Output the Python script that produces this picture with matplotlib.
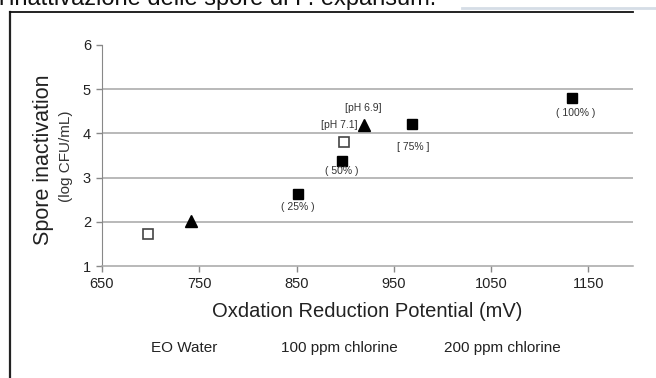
import numpy as np
import matplotlib
matplotlib.use('Agg')
import matplotlib.pyplot as plt
from matplotlib.lines import Line2D

plt.rcParams['font.family'] = ['Liberation Sans', 'DejaVu Sans']

# EO water dilutions (filled squares)
eo_orp = [852, 897, 969, 1133]
eo_log = [2.63, 3.38, 4.21, 4.80]
eo_lab = ['( 25% )', '( 50% )', '[ 75% ]', '( 100% )']

# chlorine series
cl100_orp = [697, 899]
cl100_log = [1.73, 3.80]
cl200_orp = [741, 919]
cl200_log = [2.02, 4.18]

legend_names = ['EO Water', '100 ppm chlorine', '200 ppm chlorine']
xticks = [650, 750, 850, 950, 1050, 1150]
yticks = [1, 2, 3, 4, 5, 6]

W, H = 656, 378
fig = plt.figure(figsize=(W / 100, H / 100), dpi=100)

# page frame
fig.add_artist(Line2D([9.5 / W, 9.5 / W], [0, 1 - 11.5 / H], color='#222222', lw=1.6))
fig.add_artist(Line2D([9.5 / W, 633 / W], [1 - 11.5 / H, 1 - 11.5 / H], color='#111111', lw=1.3))
fig.add_artist(Line2D([462 / W, 1], [1 - 8 / H, 1 - 8 / H], color='#d5dde6', lw=2))
# title of the page, cut by the top edge as in the reference
fig.text(-0.002, 1 + 1 / H, "l'inattivazione delle spore di P. expansum.", fontsize=17,
         ha='left', va='center', color='#111111')

ax = fig.add_axes([102 / W, 1 - 266 / H, 531 / W, 221 / H])
ax.set_xlim(650, 1196)
ax.set_ylim(1, 6)

for y in yticks[1:-1]:
    ax.axhline(y, color='#a6a6a6', lw=1.1, zorder=1)

ax.plot(cl100_orp, cl100_log, ls='none', marker='s', ms=7.5, mfc='white',
        mec='#444444', mew=1.2, zorder=3)
ax.plot(cl200_orp, cl200_log, ls='none', marker='^', ms=9, color='black', zorder=3)
ax.plot(eo_orp, eo_log, ls='none', marker='s', ms=7.5, color='black', zorder=3)

offs = [(-1, -13), (0, -10), (1, -23), (4, -15)]
for x, y, t, o in zip(eo_orp, eo_log, eo_lab, offs):
    ax.annotate(t, (x, y), xytext=o, textcoords='offset pixels', ha='center',
                va='center', fontsize=7.5, color='#333333', zorder=4)
ax.annotate('[pH 6.9]', (cl200_orp[1], cl200_log[1]), xytext=(0, 17),
            textcoords='offset pixels', ha='center', va='center', fontsize=7.5, color='#333333')
ax.annotate('[pH 7.1]', (cl200_orp[1], cl200_log[1]), xytext=(-6, 0),
            textcoords='offset pixels', ha='right', va='center', fontsize=7.5, color='#333333')

ax.set_xticks(xticks)
ax.set_yticks(yticks)
ax.tick_params(direction='out', length=4, width=1, color='#888888',
               labelsize=10.5, labelcolor='#222222', pad=4)
for s in ['top', 'right']:
    ax.spines[s].set_visible(False)
ax.spines['left'].set_color('#888888')
ax.spines['bottom'].set_color('#a6a6a6')
ax.spines['bottom'].set_linewidth(1.1)

ax.set_xlabel('Oxdation Reduction Potential (mV)', fontsize=14.5, color='#222222', labelpad=8)
fig.text(44 / W, 1 - 160 / H, 'Spore inactivation', rotation=90, fontsize=15.5,
         ha='center', va='center', color='#222222')
fig.text(66 / W, 1 - 156 / H, '(log CFU/mL)', rotation=90, fontsize=11,
         ha='center', va='center', color='#333333')

for cx, name in zip([184, 339, 502], legend_names):
    fig.text(cx / W, 1 - 348 / H, name, fontsize=11, ha='center', va='center', color='#222222')

fig.savefig('out.png', dpi=100)
